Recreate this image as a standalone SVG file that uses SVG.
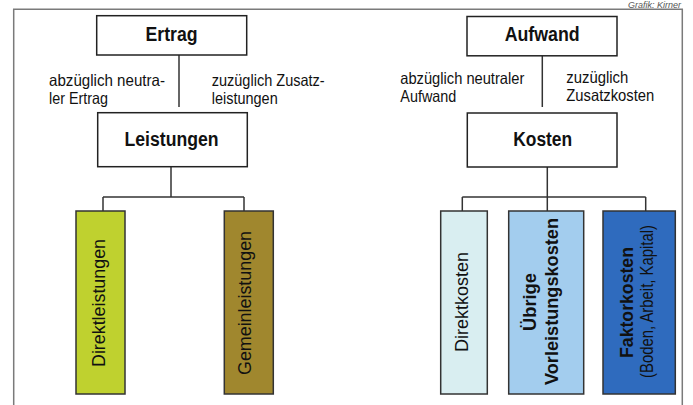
<svg xmlns="http://www.w3.org/2000/svg" width="693" height="405" viewBox="0 0 693 405">
<style>
.frame{fill:none;stroke:#7a7a7a;stroke-width:1.5}
.box{fill:#fff;stroke:#222;stroke-width:1.5}
.bar{stroke:#333;stroke-width:1.5}
.conn line{stroke:#333;stroke-width:1.5}
.lbl{font-family:"Liberation Sans",Arial,sans-serif;font-size:16.5px;fill:#111}
.ttl{font-family:"Liberation Sans",Arial,sans-serif;font-size:20px;font-weight:bold;fill:#111}
.vt{font-family:"Liberation Sans",Arial,sans-serif;font-size:18px;fill:#111}
.vb{font-family:"Liberation Sans",Arial,sans-serif;font-size:19px;font-weight:bold;fill:#111}
.credit{font-family:"Liberation Sans",Arial,sans-serif;font-size:9px;font-style:italic;fill:#555}
</style>
<rect width="693" height="405" fill="#fff"/>
<path class="frame" d="M13.7,406 V9.3 H682.3 V406"/>
<text class="credit" x="681" y="8" text-anchor="end">Grafik: Kirner</text>

<g class="conn">
<line x1="179" y1="55" x2="179" y2="107"/>
<line x1="171" y1="167" x2="171" y2="197"/>
<line x1="103" y1="197" x2="244" y2="197"/>
<line x1="103" y1="197" x2="103" y2="211"/>
<line x1="244" y1="197" x2="244" y2="211"/>
<line x1="542.3" y1="56" x2="542.3" y2="107"/>
<line x1="547.3" y1="167" x2="547.3" y2="211"/>
<line x1="462.3" y1="197" x2="645.7" y2="197"/>
<line x1="462.3" y1="197" x2="462.3" y2="211"/>
<line x1="645.7" y1="197" x2="645.7" y2="211"/>
</g>

<g id="labels">
<text class="lbl" x="49" y="85.5" textLength="116" lengthAdjust="spacingAndGlyphs">abzüglich neutra-</text>
<text class="lbl" x="49" y="103.5" textLength="59" lengthAdjust="spacingAndGlyphs">ler Ertrag</text>
<text class="lbl" x="211.7" y="85.5" textLength="113" lengthAdjust="spacingAndGlyphs">zuzüglich Zusatz-</text>
<text class="lbl" x="211.7" y="103.5" textLength="66" lengthAdjust="spacingAndGlyphs">leistungen</text>
<text class="lbl" x="400.3" y="84" textLength="124" lengthAdjust="spacingAndGlyphs">abzüglich neutraler</text>
<text class="lbl" x="400.3" y="102" textLength="56" lengthAdjust="spacingAndGlyphs">Aufwand</text>
<text class="lbl" x="566.3" y="83" textLength="62" lengthAdjust="spacingAndGlyphs">zuzüglich</text>
<text class="lbl" x="566.3" y="101" textLength="88" lengthAdjust="spacingAndGlyphs">Zusatzkosten</text>
</g>

<g id="ertrag">
<rect class="box" x="96.7" y="15.7" width="150" height="39.3"/>
<text class="ttl" x="171.5" y="40.7" text-anchor="middle" textLength="52" lengthAdjust="spacingAndGlyphs">Ertrag</text>
</g>
<g id="leistungen">
<rect class="box" x="97.7" y="112.7" width="149.6" height="54"/>
<text class="ttl" x="171.5" y="146" text-anchor="middle" textLength="94" lengthAdjust="spacingAndGlyphs">Leistungen</text>
</g>
<g id="aufwand">
<rect class="box" x="467" y="16.5" width="150" height="39.3"/>
<text class="ttl" x="542.2" y="40.7" text-anchor="middle" textLength="75" lengthAdjust="spacingAndGlyphs">Aufwand</text>
</g>
<g id="kosten">
<rect class="box" x="467.3" y="113" width="149.7" height="54"/>
<text class="ttl" x="542.7" y="146" text-anchor="middle" textLength="59" lengthAdjust="spacingAndGlyphs">Kosten</text>
</g>

<g id="direktleistungen">
<rect class="bar" x="76" y="211" width="49" height="183" fill="#bfd12f"/>
<text class="vt" transform="translate(104.5,303) rotate(-90)" text-anchor="middle" textLength="128" lengthAdjust="spacingAndGlyphs">Direktleistungen</text>
</g>
<g id="gemeinleistungen">
<rect class="bar" x="224.3" y="211" width="49" height="183" fill="#a0872e"/>
<text class="vt" transform="translate(251.2,303) rotate(-90)" text-anchor="middle" textLength="144" lengthAdjust="spacingAndGlyphs">Gemeinleistungen</text>
</g>
<g id="direktkosten">
<rect class="bar" x="440.7" y="211" width="46.6" height="183" fill="#d9eef1"/>
<text class="vt" transform="translate(467.5,302) rotate(-90)" text-anchor="middle" textLength="100" lengthAdjust="spacingAndGlyphs">Direktkosten</text>
</g>
<g id="vorleistungskosten">
<rect class="bar" x="508.7" y="211" width="75" height="183" fill="#a3cdee"/>
<text class="vb" transform="translate(536,302) rotate(-90)" text-anchor="middle" textLength="58" lengthAdjust="spacingAndGlyphs">Übrige</text>
<text class="vb" transform="translate(557.5,301.5) rotate(-90)" text-anchor="middle" textLength="167" lengthAdjust="spacingAndGlyphs">Vorleistungskosten</text>
</g>
<g id="faktorkosten">
<rect class="bar" x="603" y="211" width="72.3" height="183" fill="#2f6bbe"/>
<text class="vb" transform="translate(633,302.5) rotate(-90)" text-anchor="middle" textLength="111" lengthAdjust="spacingAndGlyphs">Faktorkosten</text>
<text class="vt" transform="translate(652.5,301.5) rotate(-90)" text-anchor="middle" textLength="153" lengthAdjust="spacingAndGlyphs">(Boden, Arbeit, Kapital)</text>
</g>
</svg>
